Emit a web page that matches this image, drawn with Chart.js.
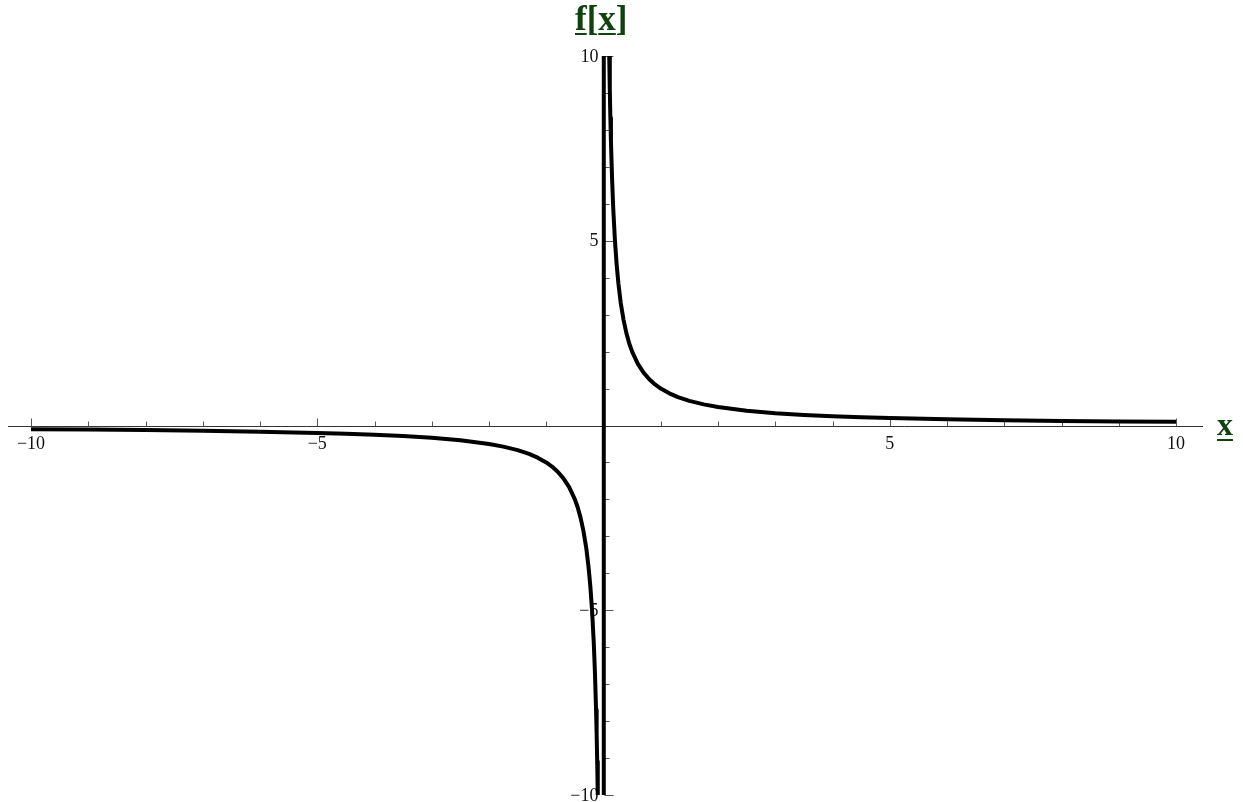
<!DOCTYPE html>
<html>
<head>
<meta charset="utf-8">
<title>f[x]</title>
<script src="https://cdn.jsdelivr.net/npm/chart.js@4/dist/chart.umd.min.js"></script>
<style>
    html, body { margin: 0; padding: 0; background: #ffffff; }
    #wrap { width: 1243px; height: 802px; position: relative; }
</style>
</head>
<body>
<div id="wrap"><canvas id="plot"></canvas></div>
<script>
// Curve samples, left branch then right branch (the jump through 0 is kept as one stroke)
const xValues = [
    -10, -9, -8, -7, -6, -5, -4.5, -4, -3.5, -3, -2.5, -2, -1.75, -1.5, -1.3, -1.15, -1,
    -0.9, -0.8, -0.7, -0.6, -0.5, -0.45, -0.4, -0.35, -0.3, -0.26, -0.23, -0.2, -0.17,
    -0.15, -0.13, -0.12, -0.11, -0.1, -0.005,
    0.005, 0.1, 0.11, 0.12, 0.13, 0.15, 0.17, 0.2, 0.23, 0.26, 0.3, 0.35, 0.4, 0.45, 0.5,
    0.6, 0.7, 0.8, 0.9, 1, 1.15, 1.3, 1.5, 1.75, 2, 2.5, 3, 3.5, 4, 4.5, 5, 6, 7, 8, 9, 10
];
const yValues = [
    -0.1, -0.111, -0.125, -0.143, -0.167, -0.2, -0.222, -0.25, -0.286, -0.333, -0.4, -0.5,
    -0.571, -0.667, -0.769, -0.87, -1,
    -1.11, -1.25, -1.43, -1.67, -2, -2.22, -2.5, -2.86, -3.33, -3.85, -4.35, -5, -5.88,
    -6.67, -7.69, -8.33, -9.09, -10, -200,
    200, 10, 9.09, 8.33, 7.69, 6.67, 5.88, 5, 4.35, 3.85, 3.33, 2.86, 2.5, 2.22, 2,
    1.67, 1.43, 1.25, 1.11, 1, 0.87, 0.769, 0.667, 0.571, 0.5, 0.4, 0.333, 0.286, 0.25,
    0.222, 0.2, 0.167, 0.143, 0.125, 0.111, 0.1
];

// Axis ticks
const xMajorTicks = [-10, -5, 5, 10];
const yMajorTicks = [-10, -5, 5, 10];
const xMinorTicks = [-9, -8, -7, -6, -4, -3, -2, -1, 1, 2, 3, 4, 6, 7, 8, 9];
const yMinorTicks = [-9, -8, -7, -6, -4, -3, -2, -1, 1, 2, 3, 4, 6, 7, 8, 9];

const xAxisLabel = 'x';
const yAxisLabel = ['f', '[', 'x', ']'];   // parts; f and x are underlined
const labelColor = '#0f420f';

function fmt(v) {
    return v < 0 ? '\u2212' + Math.abs(v) : String(v);
}

// Draws axes crossing at the origin, with ticks pointing into the plot
const originAxes = {
    id: 'originAxes',
    beforeDatasetsDraw(chart) {
        const ctx = chart.ctx;
        const xs = chart.scales.x;
        const ys = chart.scales.y;
        const area = chart.chartArea;
        const x0 = Math.round(xs.getPixelForValue(0)) + 0.5;
        const y0 = Math.round(ys.getPixelForValue(0)) + 0.5;

        ctx.save();
        ctx.strokeStyle = '#333333';
        ctx.lineWidth = 1;

        // axis lines
        ctx.beginPath();
        ctx.moveTo(8, y0);
        ctx.lineTo(1203, y0);
        ctx.moveTo(x0, area.top);
        ctx.lineTo(x0, area.bottom);
        ctx.stroke();

        ctx.strokeStyle = '#555555';
        ctx.beginPath();
        xMajorTicks.forEach(v => {
            const px = Math.round(xs.getPixelForValue(v)) + 0.5;
            ctx.moveTo(px, y0);
            ctx.lineTo(px, y0 - 8);
        });
        xMinorTicks.forEach(v => {
            const px = Math.round(xs.getPixelForValue(v)) + 0.5;
            ctx.moveTo(px, y0);
            ctx.lineTo(px, y0 - 5);
        });
        yMajorTicks.forEach(v => {
            const py = Math.round(ys.getPixelForValue(v)) + 0.5;
            ctx.moveTo(x0, py);
            ctx.lineTo(x0 + 9, py);
        });
        yMinorTicks.forEach(v => {
            const py = Math.round(ys.getPixelForValue(v)) + 0.5;
            ctx.moveTo(x0, py);
            ctx.lineTo(x0 + 5, py);
        });
        ctx.stroke();

        // tick labels
        ctx.fillStyle = '#111111';
        ctx.font = '18px "Liberation Serif", "DejaVu Serif", serif';
        ctx.textAlign = 'center';
        ctx.textBaseline = 'top';
        xMajorTicks.forEach(v => {
            ctx.fillText(fmt(v), xs.getPixelForValue(v), y0 + 9);
        });
        ctx.textAlign = 'right';
        ctx.textBaseline = 'middle';
        yMajorTicks.forEach(v => {
            ctx.fillText(fmt(v), x0 - 6, ys.getPixelForValue(v) + 1);
        });

        // axis titles, underlined
        ctx.fillStyle = labelColor;
        ctx.strokeStyle = labelColor;
        ctx.lineWidth = 2;
        ctx.font = 'bold 35px "Liberation Serif", "DejaVu Serif", serif';
        ctx.textAlign = 'left';
        ctx.textBaseline = 'alphabetic';

        let cx = 575;
        const base = 30;
        yAxisLabel.forEach(part => {
            const w = ctx.measureText(part).width;
            ctx.fillText(part, cx, base);
            if (part === 'f' || part === 'x') {
                ctx.beginPath();
                ctx.moveTo(cx, base + 4);
                ctx.lineTo(cx + w, base + 4);
                ctx.stroke();
            }
            cx += w;
        });

        ctx.font = 'bold 32px "Liberation Serif", "DejaVu Serif", serif';
        const lx = 1217;
        const lb = 435;
        const lw = ctx.measureText(xAxisLabel).width;
        ctx.fillText(xAxisLabel, lx, lb);
        ctx.beginPath();
        ctx.moveTo(lx, lb + 5);
        ctx.lineTo(lx + lw, lb + 5);
        ctx.stroke();

        ctx.restore();
    }
};

const points = xValues.map((x, i) => ({ x: x, y: yValues[i] }));

new Chart(document.getElementById('plot').getContext('2d'), {
    type: 'scatter',
    data: {
        datasets: [{
            data: points,
            showLine: true,
            borderColor: '#000000',
            backgroundColor: '#000000',
            borderWidth: 4,
            borderJoinStyle: 'round',
            pointRadius: 0,
            tension: 0,
            clip: 0
        }]
    },
    options: {
        responsive: true,
        maintainAspectRatio: false,
        animation: false,
        layout: {
            padding: { left: 31, right: 67, top: 56, bottom: 7 }
        },
        plugins: {
            legend: { display: false },
            tooltip: { enabled: false }
        },
        scales: {
            x: { type: 'linear', min: -10, max: 10, display: false },
            y: { type: 'linear', min: -10, max: 10, display: false }
        }
    },
    plugins: [originAxes]
});
</script>
</body>
</html>
